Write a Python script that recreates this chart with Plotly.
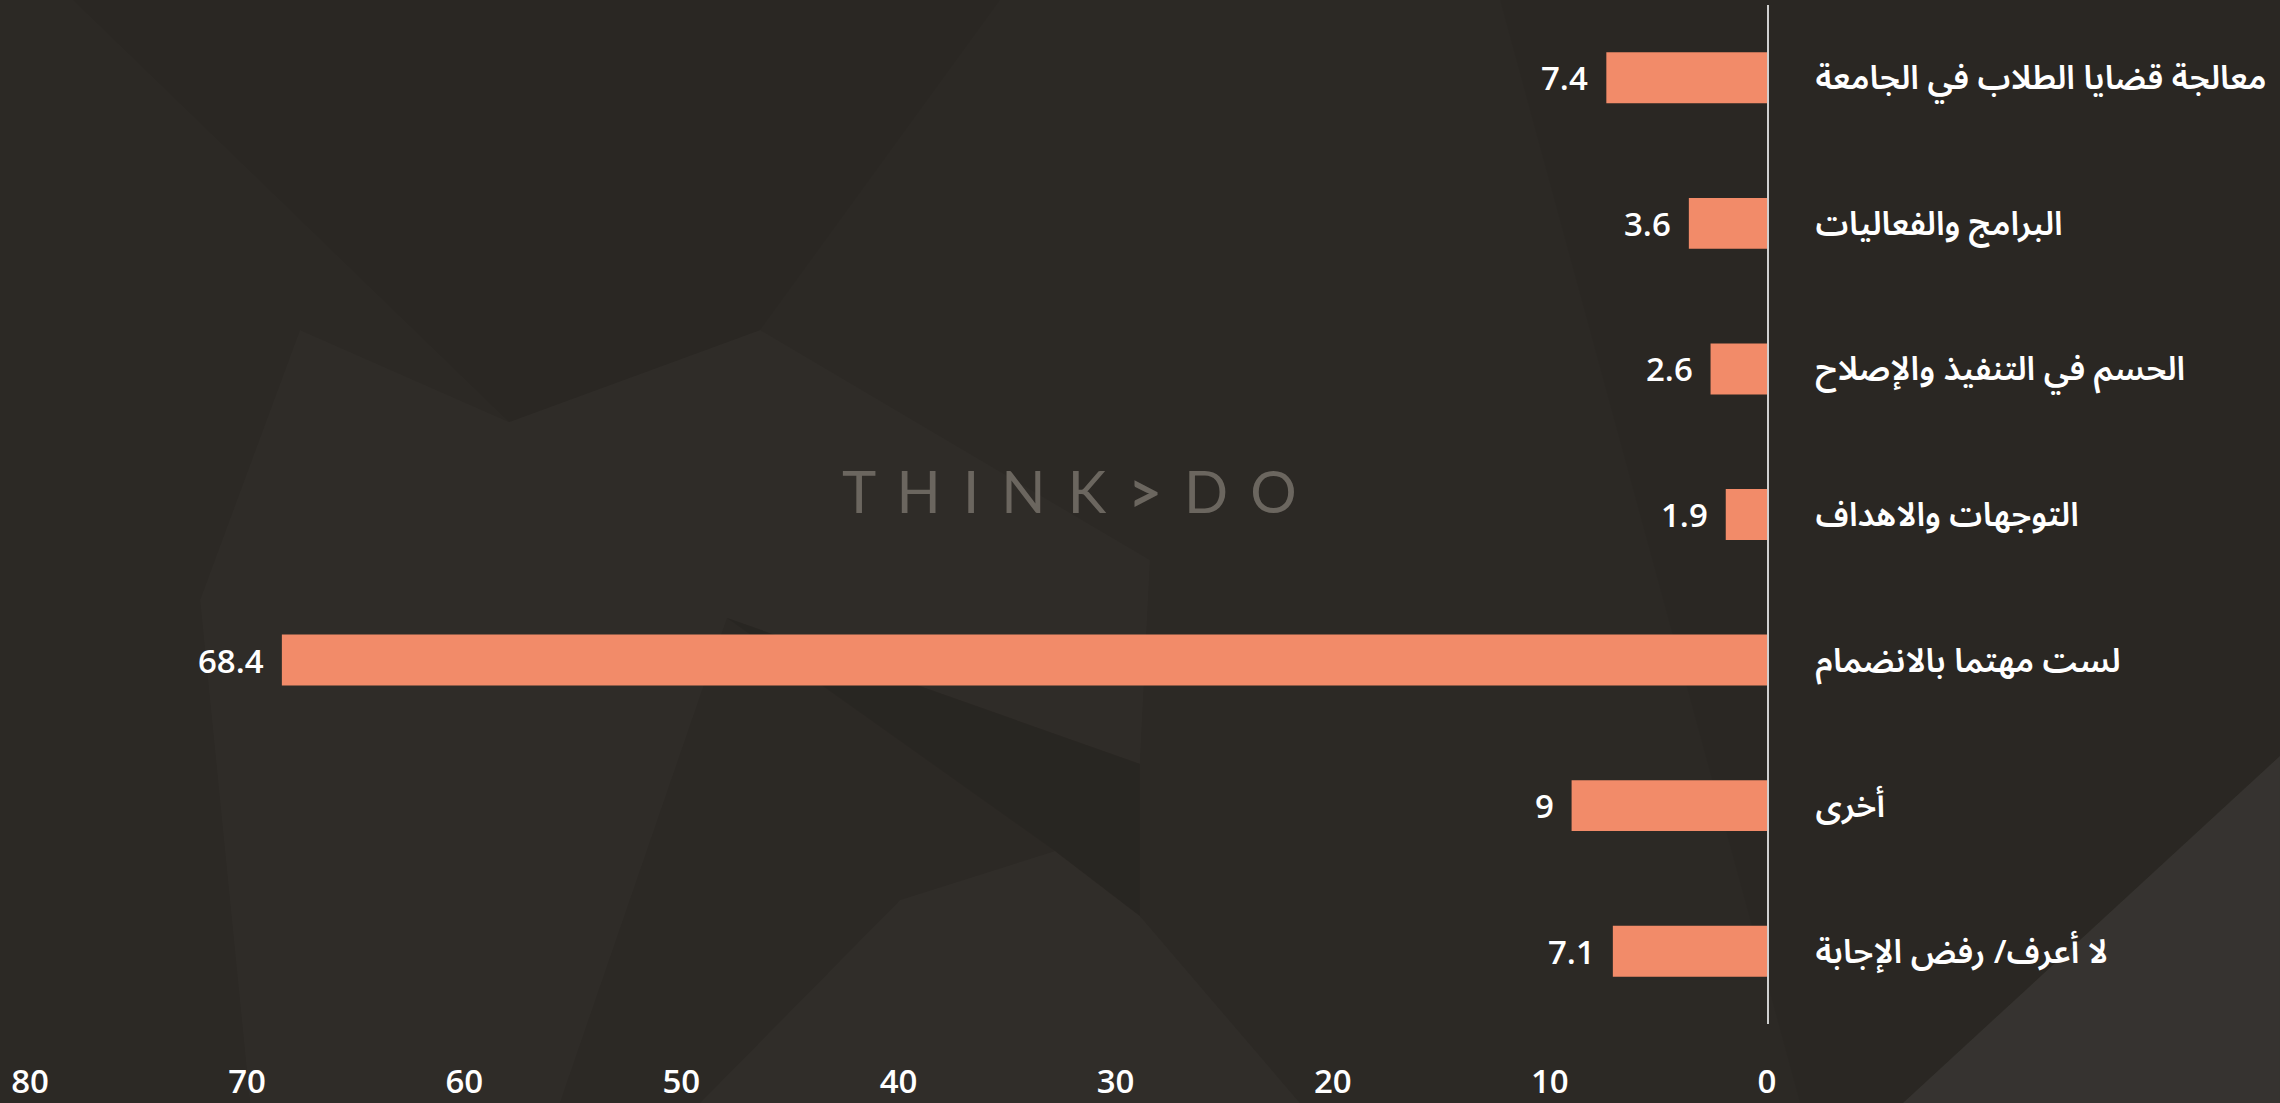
import plotly.graph_objects as go

# ---- data ----
categories = [
    "معالجة قضايا الطلاب في الجامعة",
    "البرامج والفعاليات",
    "الحسم في التنفيذ والإصلاح",
    "التوجهات والاهداف",
    "لست مهتما بالانضمام",
    "أخرى",
    "لا أعرف/ رفض الإجابة",
]
values = [7.4, 3.6, 2.6, 1.9, 68.4, 9, 7.1]
value_labels = ["7.4", "3.6", "2.6", "1.9", "68.4", "9", "7.1"]
x_ticks = [0, 10, 20, 30, 40, 50, 60, 70, 80]

W, H = 2280, 1103
ML, MR, MT, MB = 30, 513, 5, 79
BAR_COLOR = "#F28B69"
BG = "#2c2925"
FONT = "Open Sans, Noto Sans Arabic, DejaVu Sans, sans-serif"

pw, ph = W - ML - MR, H - MT - MB


def px(x, y):
    return (x - ML) / pw, (H - MB - y) / ph


def poly(points, fill):
    pts = [px(x, y) for x, y in points]
    d = "M " + " L ".join(f"{a:.4f},{b:.4f}" for a, b in pts) + " Z"
    return dict(type="path", xref="paper", yref="paper", path=d,
                fillcolor=fill, line=dict(width=0), layer="below")


fig = go.Figure()
fig.add_trace(go.Bar(
    y=categories, x=values, orientation="h",
    marker=dict(color=BAR_COLOR, line=dict(width=0)),
    hoverinfo="x+y",
))

for c, v, t in zip(categories, values, value_labels):
    fig.add_annotation(x=v, y=c, text=t, showarrow=False, xanchor="right",
                       yanchor="middle", xshift=-16,
                       font=dict(color="white", size=33, family=FONT, weight=600))

# watermark
wx, wy = px(1069, 491)
sp = "\u00a0\u2009"
wm = sp.join(["T", "H", "I", "N", "K", "<b>&gt;</b>", "D", "O"])
fig.add_annotation(xref="paper", yref="paper", x=wx, y=wy,
                   text=wm, showarrow=False,
                   font=dict(color="#6b665f", size=58, family="Lato, Open Sans, DejaVu Sans, sans-serif"),
                   xanchor="center", yanchor="middle")

shapes = [
    # darker top wedge
    poly([(73, 0), (1000, 0), (760, 330), (509, 422)], "rgba(0,0,0,0.045)"),
    # lighter central area
    poly([(300, 330), (509, 422), (760, 330), (1150, 560), (1140, 764), (727, 618), (560, 1103), (250, 1103), (200, 600)],
         "rgba(255,255,255,0.015)"),
    # darker kite under the long bar
    poly([(727, 618), (1140, 764), (1140, 916), (1055, 851)], "rgba(0,0,0,0.07)"),
    # lighter band lower middle
    poly([(1055, 851), (1140, 916), (1300, 1103), (700, 1103), (900, 900)], "rgba(255,255,255,0.02)"),
    # right side slightly darker
    poly([(1500, 0), (2280, 0), (2280, 756), (1903, 1103), (1800, 1103)], "rgba(0,0,0,0.03)"),
    # bottom-right lighter triangle
    poly([(2280, 756), (1903, 1103), (2280, 1103)], "rgba(255,255,255,0.05)"),
]

fig.update_layout(
    width=W, height=H,
    margin=dict(l=ML, r=MR, t=MT, b=MB, autoexpand=False),
    paper_bgcolor=BG,
    plot_bgcolor="rgba(0,0,0,0)",
    showlegend=False,
    bargap=0.65,
    shapes=shapes,
    font=dict(family=FONT, color="white", size=33),
    xaxis=dict(
        range=[80, 0], tickvals=x_ticks, showgrid=False, zeroline=False,
        showline=False, ticks="outside", ticklen=28, tickcolor="rgba(0,0,0,0)",
        automargin=False,
        tickfont=dict(size=33, color="white", family=FONT, weight=600),
    ),
    yaxis=dict(
        categoryorder="array", categoryarray=categories, autorange="reversed",
        side="right", showgrid=False, zeroline=False, automargin=False,
        showline=True, linecolor="#cfcfcf", linewidth=2,
        ticks="outside", ticklen=40, tickcolor="rgba(0,0,0,0)",
        tickfont=dict(size=33, color="white", family=FONT, weight=600),
    ),
)

fig.write_html(
    "out.html",
    config={"displayModeBar": False},
    post_script="document.body.style.margin='0';document.body.style.background='%s';" % BG,
)
